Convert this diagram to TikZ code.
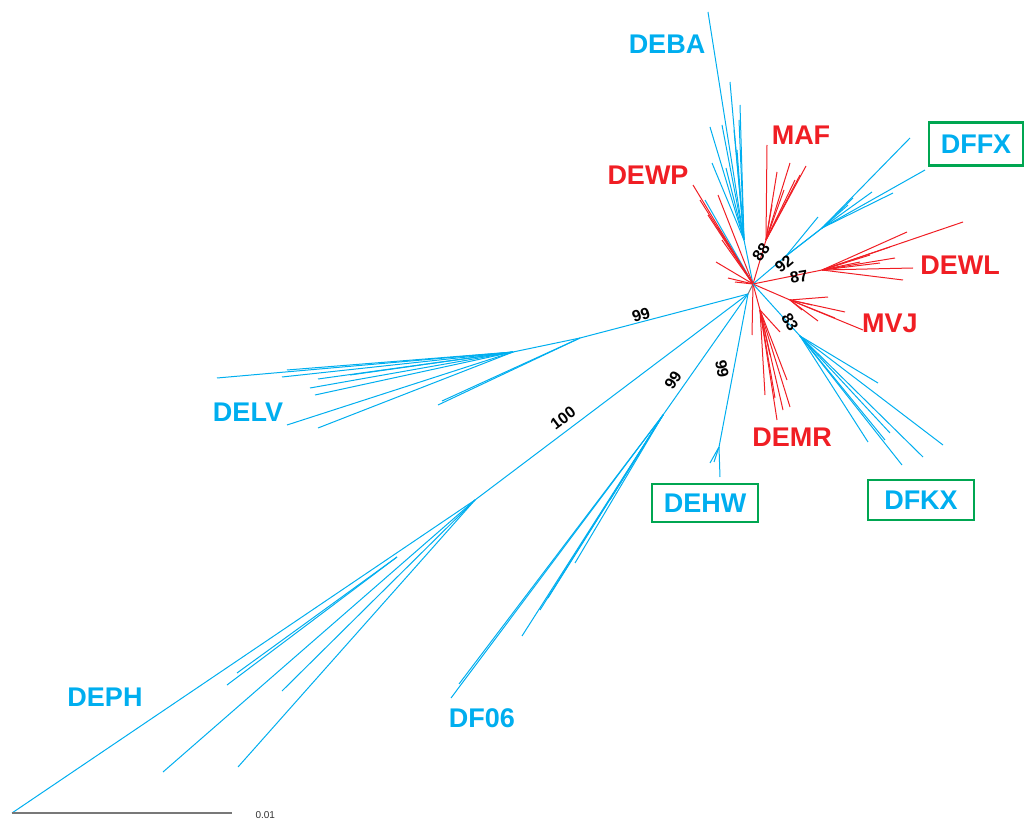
\documentclass[tikz,border=0pt]{standalone}
\usepackage{fontspec}
\setmainfont{Liberation Sans}
\definecolor{tblue}{RGB}{0,174,239}
\definecolor{tred}{RGB}{240,30,36}
\definecolor{tgreen}{RGB}{0,166,81}
\definecolor{tgray}{RGB}{120,120,120}
\begin{document}
\begin{tikzpicture}[x=1pt,y=-1pt,
  bl/.style={draw=tblue,line width=1pt},
  rd/.style={draw=tred,line width=1pt},
  gy/.style={draw=tgray,line width=1pt},
  clade/.style={font=\bfseries\fontsize{27}{27}\selectfont,inner sep=0pt},
  blab/.style={clade,text=tblue},
  rlab/.style={clade,text=tred},
  boxlab/.style={clade,text=tblue,draw=tgreen,line width=2.6pt,minimum width=100pt,minimum height=40pt},
  supp/.style={font=\bfseries\fontsize{16}{16}\selectfont,text=black,inner sep=0pt}]
\useasboundingbox (0,0) rectangle (1029,821);
% hubs
\coordinate (C) at (753,284);
\coordinate (B) at (748,294);
\draw[gy] (C) -- (B);
% ---- DEBA (blue, up)
\coordinate (D1) at (744,240);
\draw[bl] (C) -- (D1);
\foreach \p in {(708,12),(730,82),(740,105),(710,127),(722,125),(712,163),(737,150),(726,168),(734,130),(739,120)}
  \draw[bl] (D1) -- \p;
\draw[bl] (C) -- (705,200);
\draw[bl] (C) -- (718,228);
% ---- DEWP (red, up-left)
\foreach \p in {(693,185),(718,195),(708,215),(722,240),(716,262),(728,278),(700,200)}
  \draw[rd] (C) -- \p;
\draw[rd] (C) -- (735,282);
% ---- MAF (red, up)
\coordinate (M) at (766,240);
\draw[rd] (C) -- (M);
\foreach \p in {(767,145),(777,172),(790,163),(806,166),(800,175),(784,190),(772,205),(795,180)}
  \draw[rd] (M) -- \p;
% ---- DFFX (blue, up-right)
\coordinate (F) at (786,256);
\coordinate (F2) at (822,228);
\draw[bl] (C) -- (F);
\draw[bl] (F) -- (F2);
\foreach \p in {(910,138),(925,170),(853,198),(893,193),(872,192),(848,205)}
  \draw[bl] (F2) -- \p;
\draw[bl] (F) -- (818,217);
\draw[bl] (F) -- (830,222);
% ---- DEWL (red, right)
\coordinate (W) at (822,270);
\draw[rd] (C) -- (W);
\foreach \p in {(963,222),(907,232),(913,268),(903,280),(880,263),(890,247),(870,255),(860,262),(895,258)}
  \draw[rd] (W) -- \p;
% ---- MVJ (red, right-down)
\coordinate (V) at (790,300);
\draw[rd] (C) -- (V);
\foreach \p in {(863,330),(845,312),(828,297),(818,321),(802,310),(812,305),(835,318)}
  \draw[rd] (V) -- \p;
% ---- DEMR (red, down)
\coordinate (R) at (760,310);
\draw[rd] (C) -- (R);
\foreach \p in {(777,420),(790,407),(787,380),(780,332),(775,398),(770,355),(783,410),(765,395)}
  \draw[rd] (R) -- \p;
\draw[rd] (C) -- (752,335);
% ---- DFKX (blue, down-right)
\coordinate (K) at (800,336);
\draw[bl] (C) -- (K);
\foreach \p in {(868,442),(902,465),(923,457),(943,445),(878,383),(890,433),(885,440)}
  \draw[bl] (K) -- \p;
% ---- DEHW (blue, down)
\coordinate (H) at (719,447);
\draw[bl] (B) -- (H);
\draw[bl] (H) -- (720,477);
\draw[bl] (H) -- (710,463);
\draw[bl] (H) -- (714,462);
% ---- DF06 (blue)
\coordinate (G) at (663,415);
\draw[bl] (B) -- (G);
\foreach \p in {(451,698),(459,684),(522,636),(548,598),(575,563),(610,500),(540,610)}
  \draw[bl] (G) -- \p;
% ---- DELV (blue, left)
\coordinate (L1) at (580,338);
\coordinate (L2) at (513,352);
\draw[bl] (B) -- (L1);
\draw[bl] (L1) -- (L2);
\draw[bl] (L1) -- (438,405);
\draw[bl] (L1) -- (442,401);
\foreach \p in {(217,378),(287,425),(318,428),(310,388),(315,395),(318,379),(282,377),(287,370),(350,375)}
  \draw[bl] (L2) -- \p;
% ---- DEPH (blue, lower left)
\coordinate (P) at (475,500);
\coordinate (P2) at (397,557);
\draw[bl] (B) -- (P);
\draw[bl] (P) -- (12,813);
\draw[bl] (P2) -- (227,685);
\draw[bl] (P2) -- (237,673);
\draw[bl] (P) -- (163,772);
\draw[bl] (P) -- (238,767);
\draw[bl] (P) -- (282,691);
% ---- scale bar
\coordinate (S1) at (12,813);
\coordinate (S2) at (232,813);
\draw[gy,line width=1.5pt] (S1) -- (S2);
\node[font=\fontsize{10}{10}\selectfont,text=black!80,anchor=west] (scale) at (252,815) {0.01};
% ---- clade labels
\node[blab] (deba) at (667,44) {DEBA};
\node[rlab] (maf) at (801,135) {MAF};
\node[rlab] (dewp) at (648,175) {DEWP};
\node[boxlab,minimum width=94pt,minimum height=43pt] (dffx) at (976,144) {DFFX};
\node[rlab] (dewl) at (960,265) {DEWL};
\node[rlab] (mvj) at (890,323) {MVJ};
\node[rlab] (demr) at (792,437) {DEMR};
\node[blab] (delv) at (248,412) {DELV};
\node[boxlab,minimum width=106pt,minimum height=38pt] (dehw) at (705,503) {DEHW};
\node[boxlab,minimum width=106pt,minimum height=40pt] (dfkx) at (921,500) {DFKX};
\node[blab] (deph) at (105,697) {DEPH};
\node[blab] (df06) at (482,718) {DF06};
% ---- support values
\node[supp,rotate=17] (s99a) at (641,315) {99};
\node[supp,rotate=37] (s100) at (563,418) {100};
\node[supp,rotate=57] (s99b) at (673,380) {99};
\node[supp,rotate=-80] (s99c) at (722,369) {99};
\node[supp,rotate=-60] (s83) at (790,322) {83};
\node[supp,rotate=55] (s88) at (761,252) {88};
\node[supp,rotate=40] (s92) at (784,264) {92};
\node[supp,rotate=10] (s87) at (799,277) {87};
\end{tikzpicture}
\end{document}
